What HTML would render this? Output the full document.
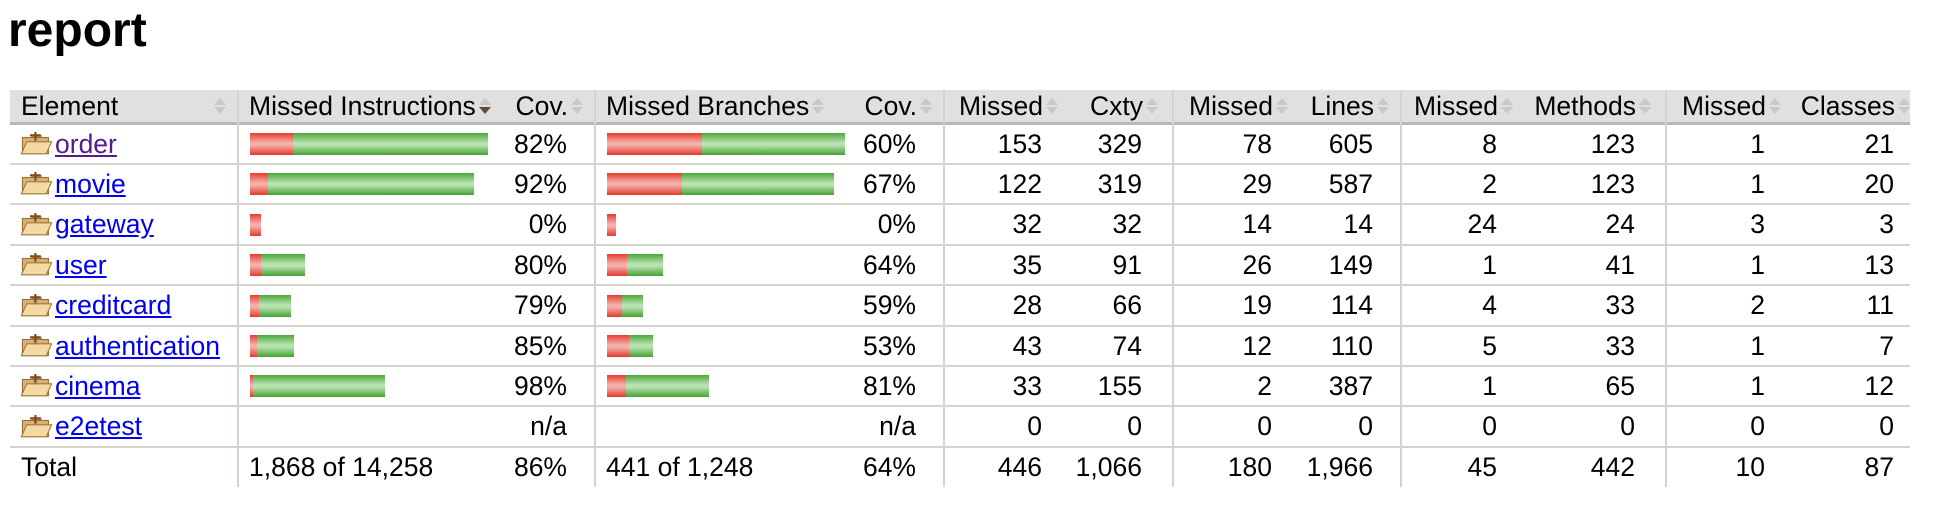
<!DOCTYPE html>
<html><head><meta charset="utf-8">
<style>
body{margin:0;background:#fff;font-family:"Liberation Sans",Arial,sans-serif;width:1956px;height:510px;overflow:hidden;position:relative}
h1{position:absolute;left:8px;top:0;margin:0;font-size:48px;font-weight:bold;line-height:62px}
#tbl{position:absolute;left:10px;top:90px;width:1900px}
.row,.hdr{position:absolute;left:0;width:1900px;font-size:26.5px}
.hdr{top:0;height:32px;background:#e0e0e0;border-bottom:3px solid #b8b8b8}
.row{height:38px;border-bottom:2px solid #d6d3ce}
.row.last{border-bottom:none}
.c{position:absolute;top:0;height:100%;display:flex;align-items:center;white-space:nowrap;box-sizing:border-box}
.r{justify-content:flex-end;padding-right:28px}
.l{padding-left:11px}
.vl{position:absolute;top:0;width:2px;background:#d6d3ce;height:397px}
.sort{display:inline-block;width:12px;height:20px;margin-left:3px;position:relative}
.sort:before{content:"";position:absolute;left:0;top:2px;border:6px solid transparent;border-bottom:7px solid #c8c8c8;border-top:0}
.sort:after{content:"";position:absolute;left:0;top:11px;border:6px solid transparent;border-top:7px solid #c8c8c8;border-bottom:0}
.sort.down:after{border-top-color:#5a4a3a}
.hr .sort{position:absolute;right:12px;top:6px}
a{text-decoration:underline}
.bar{position:absolute;top:8px;height:22px}
.red{background:linear-gradient(#e83a2e,#f5b0aa 45%,#f5b0aa 55%,#e03a2e)}
.grn{background:linear-gradient(#4aa83a,#b8e2b0 45%,#b8e2b0 55%,#44a232)}
</style></head><body>
<h1>report</h1>
<div id="tbl"></div>
<script>
const names=["order","movie","gateway","user","creditcard","authentication","cinema","e2etest"];
const instrMissed=[815,341,215,210,165,125,52,0];
const instrTotal=[4530,4267,215,1049,787,834,2575,0];
const branchMissed=[166,131,15,35,26,38,34,0];
const branchTotal=[416,396,15,98,63,81,179,0];
const instrCov=["82%","92%","0%","80%","79%","85%","98%","n/a"];
const branchCov=["60%","67%","0%","64%","59%","53%","81%","n/a"];
const cxMissed=[153,122,32,35,28,43,33,0];
const cxTotal=[329,319,32,91,66,74,155,0];
const lnMissed=[78,29,14,26,19,12,2,0];
const lnTotal=[605,587,14,149,114,110,387,0];
const mtMissed=[8,2,24,1,4,5,1,0];
const mtTotal=[123,123,24,41,33,33,65,0];
const clMissed=[1,1,3,1,2,1,1,0];
const clTotal=[21,20,3,13,11,7,12,0];
const totals=["Total","1,868 of 14,258","86%","441 of 1,248","64%","446","1,066","180","1,966","45","442","10","87"];
const headers=["Element","Missed Instructions","Cov.","Missed Branches","Cov.","Missed","Cxty","Missed","Lines","Missed","Methods","Missed","Classes"];
const cols=[[0,228],[228,496],[496,585],[585,845],[845,934],[934,1057],[1057,1163],[1163,1275],[1275,1391],[1391,1512],[1512,1656],[1656,1774],[1774,1900]];
const pads=[0,0,28,0,28,25,31,13,28,25,31,19,16];
const BARMAX=238;
const tbl=document.getElementById('tbl');
const maxI=Math.max(...instrTotal),maxB=Math.max(...branchTotal);
function cell(parent,i,html,align){
  const d=document.createElement('div');
  d.className='c '+align;d.style.left=cols[i][0]+'px';d.style.width=(cols[i][1]-cols[i][0])+'px';
  if(align=='r')d.style.paddingRight=pads[i]+'px';
  d.innerHTML=html;parent.appendChild(d);return d;
}
const h=document.createElement('div');h.className='hdr';


tbl.appendChild(h);
headers.forEach((t,i)=>{
  const left=(i<2||i==3);
  const d=cell(h,i,t+'<span class="sort'+(i==1?' down':'')+'"></span>',left?'l':'r');
  if(i==0){d.classList.add('hr');}
  if(!left){const p=pads[i]-16;d.style.paddingRight=Math.max(0,p)+'px';if(p<0){d.style.left=(cols[i][0]-p)+'px';}}
  d.style.cursor='pointer';
  
  
});
function bar(parent,i,missed,total,max){
  if(!total)return;
  const w=total/max*BARMAX,rw=missed/max*BARMAX;
  const x=cols[i][0]+12;
  const r=document.createElement('div');r.className='bar red';r.style.left=x+'px';r.style.width=rw+'px';
  
  
  parent.appendChild(r);
  if(w-rw>0){const g=document.createElement('div');g.className='bar grn';g.style.left=(x+rw)+'px';g.style.width=(w-rw)+'px';
  
  
  parent.appendChild(g);}
}
const folder='<svg width="33" height="26" viewBox="0 0 30 24" style="margin-right:2px"><path d="M2 6h8l2-2h8v4H2z" fill="#c89a58"/><rect x="2" y="6" width="24" height="15" fill="#d9b27a" stroke="#9a6e32"/><rect x="13" y="1" width="2" height="8" fill="#7a4a1a"/><rect x="9" y="3" width="10" height="2" fill="#7a4a1a"/><path d="M1 21l5-11h23l-5 11z" fill="#f3d9a4" stroke="#a07838"/></svg>';
names.forEach((n,k)=>{
  const r=document.createElement('div');r.className='row';r.style.top=(35+k*40.4)+'px';
  
  
  tbl.appendChild(r);
  const e=cell(r,0,folder+'<a href="#" style="color:'+(k==0?'#551a8b':'#0000ee')+'">'+n+'</a>','l');
  e.style.paddingLeft='10px';
  
  
  bar(r,1,instrMissed[k],instrTotal[k],maxI);
  cell(r,2,instrCov[k],'r');
  bar(r,3,branchMissed[k],branchTotal[k],maxB);
  cell(r,4,branchCov[k],'r');
  [cxMissed,cxTotal,lnMissed,lnTotal,mtMissed,mtTotal,clMissed,clTotal].forEach((a,j)=>cell(r,5+j,a[k].toLocaleString('en-US'),'r'));
});
const t=document.createElement('div');t.className='row last';t.style.top=(35+8*40.4)+'px';


tbl.appendChild(t);
totals.forEach((v,i)=>cell(t,i,v,(i<2||i==3)?'l':'r'));
[228,585,934,1163,1391,1656].forEach(x=>{const v=document.createElement('div');v.className='vl';v.style.left=(x-1)+'px';


tbl.appendChild(v);});
</script>
</body></html>
